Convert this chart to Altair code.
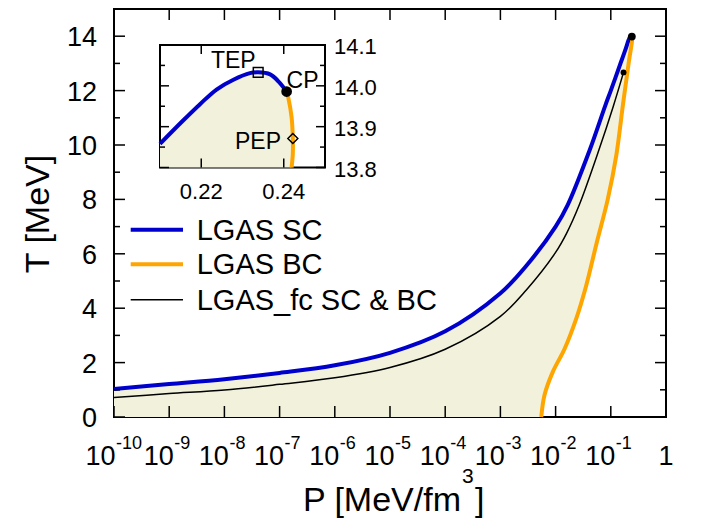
import altair as alt
import pandas as pd

# ---------------- data ----------------
# LGAS SC (blue), P in MeV/fm^3, T in MeV
sc_P = [1e-10, 1e-9, 1e-8, 1e-7, 1e-6, 1e-5, 1e-4, 1e-3, 2.95e-3, 1e-2, 1.66e-2,
        4.12e-2, 7.94e-2, 0.1, 0.148, 0.18, 0.21, 0.2156, 0.2197, 0.2237,
        0.2278, 0.2318, 0.2338, 0.2367, 0.2387, 0.2407]
sc_T = [1.03, 1.21, 1.39, 1.62, 1.90, 2.36, 3.15, 4.55, 5.56, 7.0, 7.8,
        9.8, 11.45, 12.0, 12.97, 13.45, 13.858, 13.915, 13.955, 13.991,
        14.015, 14.031, 14.033, 14.028, 14.011, 13.986]
# LGAS BC (orange), from T = 0 up to the critical point
bc_P = [5.5e-3, 6.3e-3, 8.9e-3, 1.45e-2, 2.34e-2, 3.55e-2, 5.5e-2, 8.8e-2,
        0.126, 0.165, 0.210, 0.2419, 0.2422, 0.2422, 0.2419, 0.2411, 0.2407]
bc_T = [0.0, 0.81, 1.66, 2.5, 3.59, 4.80, 6.37, 8.0,
        9.63, 11.44, 13.0, 13.80, 13.834, 13.871, 13.923, 13.971, 13.986]
# LGAS_fc SC & BC (thin black)
fc_P = [1e-10, 1e-9, 1e-8, 1e-7, 1e-6, 1e-5, 1e-4, 1e-3, 2.95e-3, 1e-2,
        1.58e-2, 2.69e-2, 6.17e-2, 0.11, 0.17]
fc_T = [0.72, 0.86, 0.99, 1.20, 1.44, 1.82, 2.49, 3.7, 4.67, 6.05,
        6.75, 7.8, 9.85, 11.4, 12.67]

cp_P, cp_T = [0.2407], [13.986]
fc_cp_P, fc_cp_T = [0.17], [12.67]
tep_P, tep_T = [0.2338], [14.033]
pep_P, pep_T = [0.2422], [13.871]

x_tick_vals = [1e-10, 1e-9, 1e-8, 1e-7, 1e-6, 1e-5, 1e-4, 1e-3, 1e-2, 1e-1, 1.0]
x_exponents = ["-10", "-9", "-8", "-7", "-6", "-5", "-4", "-3", "-2", "-1"]
y_major = [0, 2, 4, 6, 8, 10, 12, 14]
y_minor = [1, 3, 5, 7, 9, 11, 13]
in_x_ticks = [0.22, 0.24]
in_x_labels = ["0.22", "0.24"]
in_y_major = [13.8, 13.9, 14.0, 14.1]
in_y_labels = ["13.8", "13.9", "14.0", "14.1"]
in_y_minor = [13.85, 13.95, 14.05]
legend_labels = ["LGAS SC", "LGAS BC", "LGAS_fc SC & BC"]
legend_colors = ["#0000cc", "#ffa500", "black"]
legend_widths = [4, 4, 1.5]

# ---------------- layout ----------------
W, H = 552, 408
FONT = "Liberation Sans"
BLUE, ORANGE, FILL = "#0000cc", "#ffa500", "#f2f2dc"
IX0, IX1, IY0, IY1 = 46, 211, 36, 158.5
CURVE = "catmull-rom"

xs = alt.Scale(type="log", domain=[1e-10, 1], range=[0, W], nice=False)
ys = alt.Scale(domain=[0, 15], range=[H, 0], nice=False, zero=False)
ixs = alt.Scale(domain=[0.21, 0.25], range=[IX0, IX1], nice=False, zero=False)
iys = alt.Scale(domain=[13.8, 14.1], range=[IY1, IY0], nice=False, zero=False)


def X(s, f="P"):
    return alt.X(f"{f}:Q", scale=s, axis=None)


def Y(s, f="T"):
    return alt.Y(f"{f}:Q", scale=s, axis=None)


sc = pd.DataFrame({"P": sc_P, "T": sc_T, "i": range(len(sc_P))})
bc = pd.DataFrame({"P": bc_P, "T": bc_T, "i": range(len(bc_P))})
fc = pd.DataFrame({"P": fc_P, "T": fc_T, "i": range(len(fc_P))})

# polygon of the two-phase region: SC up to CP, BC back down, closed below T=0 (clipped)
poly = pd.concat([
    sc[["P", "T"]],
    bc[["P", "T"]].iloc[::-1].iloc[1:],
    pd.DataFrame({"P": [bc_P[0] * 0.99, sc_P[0]], "T": [-0.5, -0.5]}),
], ignore_index=True)
poly["i"] = range(len(poly))

sc_in = sc[sc.P >= 0.21]
bc_in = bc[bc["T"] >= 13.8]
poly_in = pd.concat([
    sc_in[["P", "T"]],
    bc_in[["P", "T"]].iloc[::-1].iloc[1:],
    pd.DataFrame({"P": [0.21], "T": [13.8]}),
], ignore_index=True)
poly_in["i"] = range(len(poly_in))

one = pd.DataFrame({"a": [0]})
layers = []

# ---- main panel ----
layers.append(alt.Chart(poly).mark_line(fill=FILL, strokeOpacity=0, strokeWidth=0,
                                        interpolate=CURVE, clip=True).encode(
    x=X(xs), y=Y(ys), order="i:Q"))
layers.append(alt.Chart(fc).mark_line(color="black", strokeWidth=1.5, interpolate=CURVE).encode(
    x=X(xs), y=Y(ys), order="i:Q"))
layers.append(alt.Chart(sc).mark_line(color=BLUE, strokeWidth=4, interpolate=CURVE).encode(
    x=X(xs), y=Y(ys), order="i:Q"))
layers.append(alt.Chart(bc).mark_line(color=ORANGE, strokeWidth=4, interpolate=CURVE).encode(
    x=X(xs), y=Y(ys), order="i:Q"))
layers.append(alt.Chart(pd.DataFrame({"P": cp_P, "T": cp_T})).mark_circle(
    color="black", size=60, opacity=1).encode(x=X(xs), y=Y(ys)))
layers.append(alt.Chart(pd.DataFrame({"P": fc_cp_P, "T": fc_cp_T})).mark_circle(
    color="black", size=35, opacity=1).encode(x=X(xs), y=Y(ys)))

# main ticks (inward)
xt = pd.DataFrame({"P": x_tick_vals})
layers.append(alt.Chart(xt).mark_rule(color="black", strokeWidth=1.5).encode(
    x=X(xs), y=alt.value(H), y2=alt.value(H - 11)))
layers.append(alt.Chart(xt).mark_rule(color="black", strokeWidth=1.5).encode(
    x=X(xs), y=alt.value(0), y2=alt.value(11)))
ymj = pd.DataFrame({"T": y_major})
ymn = pd.DataFrame({"T": y_minor})
for df, ln in ((ymj, 11), (ymn, 6)):
    layers.append(alt.Chart(df).mark_rule(color="black", strokeWidth=1.5).encode(
        y=Y(ys), x=alt.value(0), x2=alt.value(ln)))
    layers.append(alt.Chart(df).mark_rule(color="black", strokeWidth=1.5).encode(
        y=Y(ys), x=alt.value(W), x2=alt.value(W - ln)))

# main tick labels
ylab = pd.DataFrame({"T": y_major, "lab": [str(v) for v in y_major]})
layers.append(alt.Chart(ylab).mark_text(align="right", baseline="middle", dy=2,
                                        font=FONT, fontSize=27, color="black").encode(
    y=Y(ys), x=alt.value(-17), text="lab:N"))

xl = pd.DataFrame({"P": x_tick_vals[:-1], "base": ["10"] * 10, "exp": x_exponents})
xl_a = xl.iloc[:1]
xl_b = xl.iloc[1:]
for df, d in ((xl_a, 1.5), (xl_b, 4.5)):
    layers.append(alt.Chart(df).mark_text(align="right", baseline="alphabetic", dx=d,
                                          font=FONT, fontSize=27, color="black").encode(
        x=X(xs), y=alt.value(H + 48), text="base:N"))
    layers.append(alt.Chart(df).mark_text(align="left", baseline="alphabetic", dx=d + 0.5,
                                          font=FONT, fontSize=18, color="black").encode(
        x=X(xs), y=alt.value(H + 32), text="exp:N"))
layers.append(alt.Chart(pd.DataFrame({"P": [1.0], "lab": ["1"]})).mark_text(
    align="center", baseline="alphabetic", font=FONT, fontSize=27, color="black").encode(
    x=X(xs), y=alt.value(H + 48), text="lab:N"))

# axis titles
layers.append(alt.Chart(one).mark_text(text="P [MeV/fm", align="right", baseline="alphabetic",
                                       font=FONT, fontSize=34, color="black").encode(
    x=alt.value(347), y=alt.value(H + 94)))
layers.append(alt.Chart(one).mark_text(text="3", align="left", baseline="alphabetic",
                                       font=FONT, fontSize=21, color="black").encode(
    x=alt.value(348), y=alt.value(H + 66)))
layers.append(alt.Chart(one).mark_text(text="]", align="left", baseline="alphabetic",
                                       font=FONT, fontSize=34, color="black").encode(
    x=alt.value(361), y=alt.value(H + 94)))
layers.append(alt.Chart(one).mark_text(text="T [MeV]", angle=270, align="center",
                                       baseline="alphabetic", font=FONT, fontSize=34,
                                       color="black").encode(
    x=alt.value(-65), y=alt.value(205)))

# legend
leg_y = [220.7, 255.3, 290.7]
for lab, col, lw, yy in zip(legend_labels, legend_colors, legend_widths, leg_y):
    layers.append(alt.Chart(one).mark_rule(color=col, strokeWidth=lw).encode(
        x=alt.value(16.7), x2=alt.value(69), y=alt.value(yy)))
    layers.append(alt.Chart(one).mark_text(text=lab, align="left", baseline="middle", dy=1,
                                           font=FONT, fontSize=29, color="black").encode(
        x=alt.value(82.7), y=alt.value(yy)))

# ---- inset ----
layers.append(alt.Chart(one).mark_rect(fill="white", stroke="black", strokeWidth=2).encode(
    x=alt.value(IX0), x2=alt.value(IX1), y=alt.value(IY0), y2=alt.value(IY1)))
layers.append(alt.Chart(poly_in).mark_line(fill=FILL, strokeOpacity=0, strokeWidth=0).encode(
    x=X(ixs), y=Y(iys), order="i:Q"))
layers.append(alt.Chart(sc_in).mark_line(color=BLUE, strokeWidth=4, interpolate=CURVE).encode(
    x=X(ixs), y=Y(iys), order="i:Q"))
layers.append(alt.Chart(bc_in).mark_line(color=ORANGE, strokeWidth=4, interpolate=CURVE).encode(
    x=X(ixs), y=Y(iys), order="i:Q"))
layers.append(alt.Chart(pd.DataFrame({"P": cp_P, "T": cp_T})).mark_circle(
    color="black", size=115, opacity=1).encode(x=X(ixs), y=Y(iys)))
layers.append(alt.Chart(pd.DataFrame({"P": tep_P, "T": tep_T})).mark_point(
    shape="square", size=95, filled=False, color="black", strokeWidth=1.5, opacity=1).encode(
    x=X(ixs), y=Y(iys)))
layers.append(alt.Chart(pd.DataFrame({"P": pep_P, "T": pep_T})).mark_point(
    shape="diamond", size=100, filled=False, color="black", strokeWidth=1.5, opacity=1).encode(
    x=X(ixs), y=Y(iys)))

ixt = pd.DataFrame({"P": in_x_ticks, "lab": in_x_labels})
layers.append(alt.Chart(ixt).mark_rule(color="black", strokeWidth=1.5).encode(
    x=X(ixs), y=alt.value(IY1), y2=alt.value(IY1 - 9)))
layers.append(alt.Chart(ixt).mark_rule(color="black", strokeWidth=1.5).encode(
    x=X(ixs), y=alt.value(IY0), y2=alt.value(IY0 + 9)))
layers.append(alt.Chart(ixt).mark_text(align="center", baseline="alphabetic", font=FONT,
                                       fontSize=22, color="black").encode(
    x=X(ixs), y=alt.value(189.5), text="lab:N"))
iymj = pd.DataFrame({"T": in_y_major, "lab": in_y_labels})
iymn = pd.DataFrame({"T": in_y_minor})
for df, ln in ((iymj, 9), (iymn, 5)):
    layers.append(alt.Chart(df).mark_rule(color="black", strokeWidth=1.5).encode(
        y=Y(iys), x=alt.value(IX0), x2=alt.value(IX0 + ln)))
    layers.append(alt.Chart(df).mark_rule(color="black", strokeWidth=1.5).encode(
        y=Y(iys), x=alt.value(IX1), x2=alt.value(IX1 - ln)))
layers.append(alt.Chart(iymj).mark_text(align="left", baseline="middle", dy=2, font=FONT,
                                        fontSize=22, color="black").encode(
    y=Y(iys), x=alt.value(220), text="lab:N"))

for txt, xx, yy in (("TEP", 119.3, 59), ("CP", 188.5, 79), ("PEP", 144, 139.5)):
    layers.append(alt.Chart(one).mark_text(text=txt, align="center", baseline="alphabetic",
                                           font=FONT, fontSize=23, color="black").encode(
        x=alt.value(xx), y=alt.value(yy)))

chart = alt.layer(*layers).resolve_scale(
    x="independent", y="independent"
).properties(
    width=W, height=H,
    autosize=alt.AutoSizeParams(type="none"),
    padding={"left": 106, "top": 1, "right": 20, "bottom": 104},
).configure_view(stroke="black", strokeWidth=2)

chart.save("out.html", embed_options={"renderer": "svg", "actions": False})
